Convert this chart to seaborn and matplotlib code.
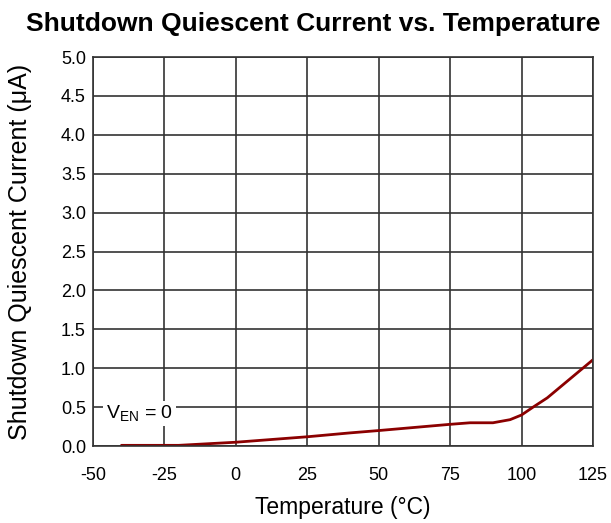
import numpy as np
import pandas as pd
import matplotlib.pyplot as plt
import seaborn as sns

# data
temperature = [-40, -25, -20, 0, 25, 40, 50, 75, 82, 90, 96, 100, 104, 109, 125]
current = [0.01, 0.01, 0.01, 0.05, 0.12, 0.17, 0.2, 0.28, 0.3, 0.3, 0.34, 0.4, 0.5, 0.62, 1.11]
x_ticks = [-50, -25, 0, 25, 50, 75, 100, 125]
y_ticks = np.arange(0, 5.01, 0.5)

sns.set_theme(style='white')
plt.rcParams['font.family'] = ['Liberation Sans', 'DejaVu Sans']
plt.rcParams['mathtext.fontset'] = 'custom'
plt.rcParams['mathtext.rm'] = 'Liberation Sans'
plt.rcParams['axes.unicode_minus'] = False
plt.rcParams['text.color'] = 'black'
plt.rcParams['axes.labelcolor'] = 'black'

df = pd.DataFrame({'Temperature': temperature, 'Current': current})

fig = plt.figure(figsize=(6.11, 5.23), dpi=100)
ax = fig.add_axes([0.152, 0.147, 0.8185, 0.744])
sns.lineplot(data=df, x='Temperature', y='Current', color='#8b0000', linewidth=2, ax=ax)

ax.set_xlim(-50, 125)
ax.set_ylim(0, 5)
ax.set_xticks(x_ticks)
ax.set_xticklabels([str(t) for t in x_ticks])
ax.set_yticks(y_ticks)
ax.set_yticklabels([f'{v:.1f}' for v in y_ticks])
ax.grid(True, color='#333333', linewidth=1.2)
ax.set_axisbelow(True)
for s in ax.spines.values():
    s.set_color('#333333')
    s.set_linewidth(1.2)
ax.tick_params(axis='both', labelsize=13, colors='black', length=0)
ax.tick_params(axis='x', pad=15)
ax.tick_params(axis='y', pad=5)

ax.set_xlabel('Temperature (°C)', fontsize=16.5, labelpad=9)
ax.set_ylabel('Shutdown Quiescent Current (μA)', fontsize=18, labelpad=21)
fig.suptitle('Shutdown Quiescent Current vs. Temperature', fontsize=19,
             fontweight='bold', x=0.513, y=0.977)

ax.text(-45.5, 0.42, r'V$_{\mathrm{EN}}$ = 0', fontsize=14, va='center', ha='left',
        bbox=dict(facecolor='white', edgecolor='none', pad=2))

fig.savefig('out.png', dpi=100)
